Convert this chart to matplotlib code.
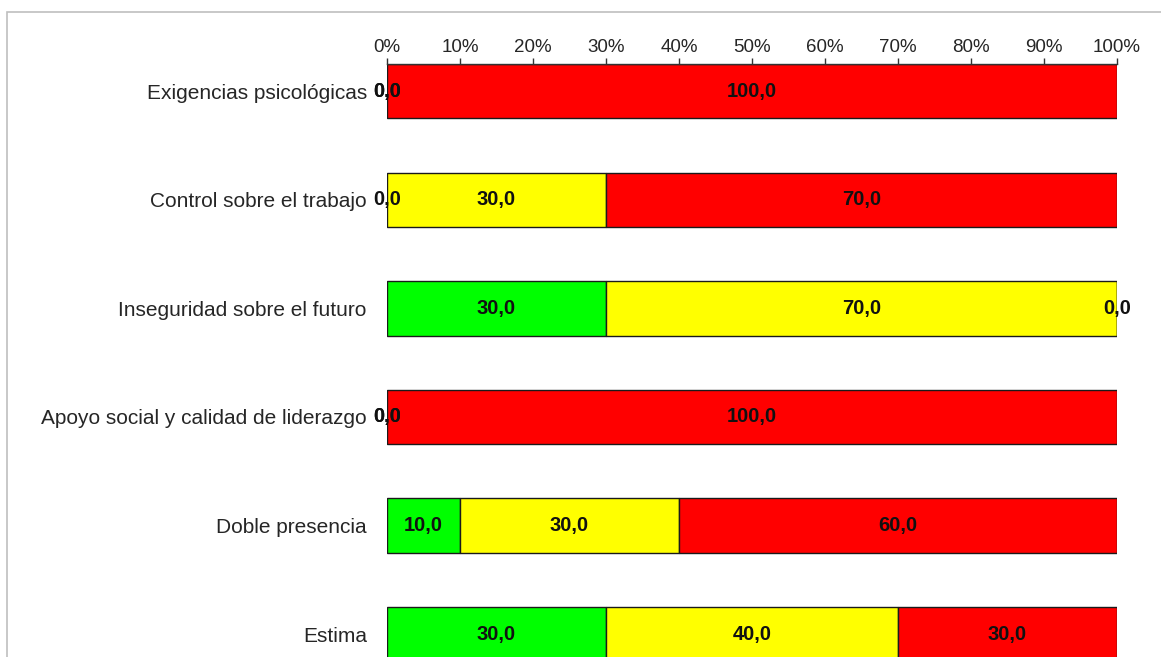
import matplotlib
matplotlib.use("Agg")
import matplotlib.pyplot as plt
from matplotlib.patches import Rectangle
import numpy as np

categories = [
    "Exigencias psicológicas",
    "Control sobre el trabajo",
    "Inseguridad sobre el futuro",
    "Apoyo social y calidad de liderazgo",
    "Doble presencia",
    "Estima",
]
verde = [0.0, 0.0, 30.0, 0.0, 10.0, 30.0]
amarillo = [0.0, 30.0, 70.0, 0.0, 30.0, 40.0]
rojo = [100.0, 70.0, 0.0, 100.0, 60.0, 30.0]
tick_values = [0, 10, 20, 30, 40, 50, 60, 70, 80, 90, 100]
tick_labels = ["0%", "10%", "20%", "30%", "40%", "50%", "60%", "70%", "80%", "90%", "100%"]

series = [verde, amarillo, rojo]
colors = ["#00FF00", "#FFFF00", "#FF0000"]

plt.rcParams["font.family"] = ["Liberation Sans", "DejaVu Sans"]

W, H = 1161, 657
fig = plt.figure(figsize=(W / 100, H / 100), dpi=100)

# figure border (cropped screenshot frame)
fig.patches.append(Rectangle((7 / W, -0.2), 1.5, 1 - 12 / H + 0.2,
                             transform=fig.transFigure, fill=False,
                             edgecolor="#bfbfbf", linewidth=1.2))

left = 387 / W
right = 1117 / W
top = 1 - 64 / H
bottom = 1 - (64 + 6 * 108.6) / H
ax = fig.add_axes([left, bottom, right - left, top - bottom])

y = np.arange(len(categories))
cum = np.zeros(len(categories))
for vals, col in zip(series, colors):
    vals = np.array(vals)
    ax.barh(y, vals, left=cum, height=0.5, color=col, edgecolor="#1a1a1a",
            linewidth=1.0, zorder=2)
    for yi, (c, v) in enumerate(zip(cum, vals)):
        ax.text(c + v / 2, yi, f"{v:.1f}".replace(".", ","), ha="center",
                va="center", fontsize=14.5, fontweight="bold", color="#111111",
                zorder=3)
    cum = cum + vals

ax.set_xlim(0, 100)
ax.set_ylim(len(categories) - 0.25, -0.25)
ax.xaxis.tick_top()
ax.set_xticks(tick_values)
ax.set_xticklabels(tick_labels, fontsize=13.5, color="#262626")
ax.tick_params(axis="x", direction="out", length=4, width=1, color="#333333", pad=2)
ax.set_yticks(y)
ax.set_yticklabels(categories, fontsize=15, color="#262626")
ax.tick_params(axis="y", length=0, pad=14.5)
for s in ["left", "right", "bottom"]:
    ax.spines[s].set_visible(False)
ax.spines["top"].set_color("#333333")
ax.spines["top"].set_linewidth(1.0)
ax.set_facecolor("none")

fig.savefig("out.png", dpi=100)
